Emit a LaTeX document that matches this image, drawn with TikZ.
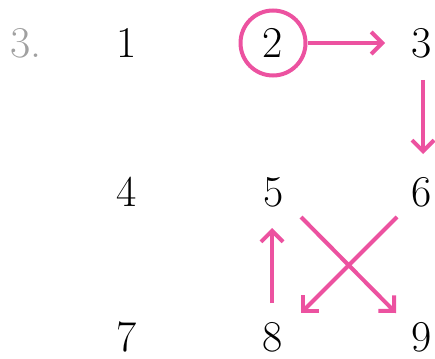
\documentclass[tikz,border=0pt]{standalone}
\usetikzlibrary{arrows.meta,calc}
\definecolor{pinkc}{RGB}{236,82,160}
\definecolor{grayc}{RGB}{160,160,160}
\begin{document}
\begin{tikzpicture}[x=1pt,y=1pt,
  num/.style={inner sep=0pt,font=\fontsize{44}{44}\selectfont},
  arr/.style={draw=pinkc,line width=4pt,-{Straight Barb[length=11pt,width=22pt,line width=4pt]}}]
\useasboundingbox (0,0) rectangle (435,-358);
\node[num,text=grayc] (lbl) at (26,-43) {3.};
\node[num] (n1) at (127,-43) {1};
\node[num] (n2) at (273,-43) {2};
\node[num] (n3) at (422,-43) {3};
\node[num] (n4) at (127,-192) {4};
\node[num] (n5) at (274,-192) {5};
\node[num] (n6) at (422,-192) {6};
\node[num] (n7) at (127,-337) {7};
\node[num] (n8) at (273,-337) {8};
\node[num] (n9) at (422,-337) {9};
\node[draw=pinkc,line width=4pt,circle,minimum size=65pt] (c2) at (n2) {};
\draw[arr] (c2.east) -- ($(n3)+(-37,0)$);
\draw[arr] ($(n3)+(1,-37)$) -- ($(n6)+(1,38)$);
\draw[arr] ($(n5)+(27,-25)$) -- ($(n9)+(-26,24)$);
\draw[arr] ($(n6)+(-25,-25)$) -- ($(n8)+(28,24)$);
\draw[arr] ($(n8)+(-1,34)$) -- ($(n5)+(-2,-36)$);
\end{tikzpicture}
\end{document}
